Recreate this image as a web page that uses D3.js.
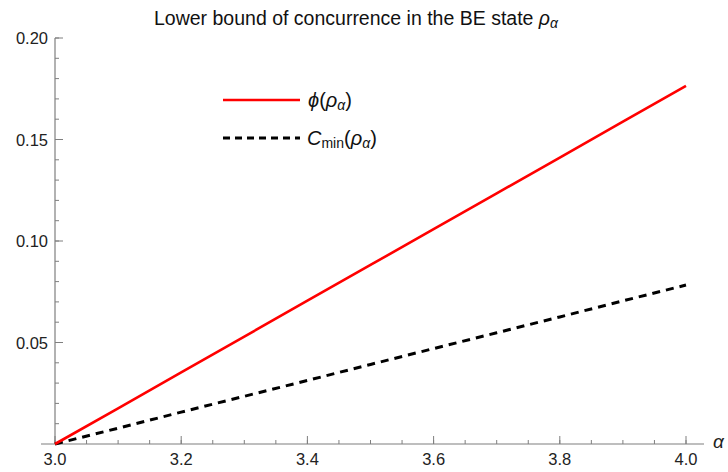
<!DOCTYPE html>
<html><head><meta charset="utf-8">
<script src="https://cdn.jsdelivr.net/npm/d3@7"></script>
<style>body{margin:0;background:#fff}svg{display:block;font-family:"Liberation Sans",Arial,sans-serif}</style>
</head><body>
<script>
const alphas = [3.0,3.1,3.2,3.3,3.4,3.5,3.6,3.7,3.8,3.9,4.0];
const phiVals = [0,0.0176,0.0353,0.0529,0.0706,0.0882,0.1058,0.1235,0.1411,0.1588,0.1764];
const cminVals = [0,0.0078,0.0157,0.0235,0.0313,0.0392,0.0470,0.0548,0.0626,0.0705,0.0783];
const xTicks = [3.0,3.2,3.4,3.6,3.8,4.0];
const yTicks = [0.05,0.10,0.15,0.20];

const W=728,H=472;
const svg=d3.select("body").append("svg").attr("width",W).attr("height",H);
const x=d3.scaleLinear().domain([3,4]).range([55,686]);
const y=d3.scaleLinear().domain([0,0.2]).range([444,38]);
const axisCol="#7f7f7f";
const FS=16.5;

// x axis
const gx=svg.append("g").attr("transform",`translate(0,${y(0)})`);
gx.append("line").attr("x1",41).attr("x2",704).attr("stroke",axisCol).attr("stroke-width",1.2);
gx.selectAll(".mn").data(d3.range(3,4.001,0.05)).join("line")
  .attr("x1",d=>x(d)).attr("x2",d=>x(d)).attr("y1",0).attr("y2",-4).attr("stroke",axisCol);
gx.selectAll(".mj").data(xTicks).join("line")
  .attr("x1",d=>x(d)).attr("x2",d=>x(d)).attr("y1",0).attr("y2",-8).attr("stroke",axisCol);
gx.selectAll("text").data(xTicks).join("text")
  .attr("x",d=>x(d)).attr("y",21).attr("text-anchor","middle").attr("font-size",FS).attr("fill","#222")
  .text(d=>d.toFixed(1));
svg.append("text").attr("x",713).attr("y",448).attr("font-size",19).attr("font-style","italic").attr("fill","#222").text("α");

// y axis
const gy=svg.append("g").attr("transform",`translate(${x(3)},0)`);
gy.append("line").attr("y1",y(0)).attr("y2",y(0.2)).attr("stroke",axisCol).attr("stroke-width",1.2);
gy.selectAll(".mn").data(d3.range(0,0.2001,0.01)).join("line")
  .attr("y1",d=>y(d)).attr("y2",d=>y(d)).attr("x1",0).attr("x2",4).attr("stroke",axisCol);
gy.selectAll(".mj").data(yTicks).join("line")
  .attr("y1",d=>y(d)).attr("y2",d=>y(d)).attr("x1",0).attr("x2",8).attr("stroke",axisCol);
gy.selectAll("text").data(yTicks).join("text")
  .attr("x",-7).attr("y",d=>y(d)+6).attr("text-anchor","end").attr("font-size",FS).attr("fill","#222")
  .text(d=>d.toFixed(2));

// lines
const line=vals=>d3.line().x((d,i)=>x(alphas[i])).y(d=>y(d))(vals);
svg.append("path").attr("d",line(cminVals)).attr("fill","none").attr("stroke","#000").attr("stroke-width",3).attr("stroke-dasharray","8,6");
svg.append("path").attr("d",line(phiVals)).attr("fill","none").attr("stroke","#f00").attr("stroke-width",2.6);

// title
const t=svg.append("text").attr("x",356).attr("y",25).attr("text-anchor","middle").attr("font-size",19.5).attr("fill","#111");
t.append("tspan").text("Lower bound of concurrence in the BE state ");
t.append("tspan").attr("font-style","italic").text("ρ");
t.append("tspan").attr("font-style","italic").attr("font-size",14).attr("dy",3).text("α");

// legend
svg.append("line").attr("x1",223).attr("x2",300).attr("y1",100).attr("y2",100).attr("stroke","#f00").attr("stroke-width",2.6);
svg.append("line").attr("x1",223).attr("x2",300).attr("y1",138).attr("y2",138).attr("stroke","#000").attr("stroke-width",3).attr("stroke-dasharray","7,5");
const l1=svg.append("text").attr("x",308).attr("y",107).attr("font-size",20).attr("fill","#111");
l1.append("tspan").attr("font-style","italic").text("ϕ");
l1.append("tspan").text("(");
l1.append("tspan").attr("font-style","italic").text("ρ");
l1.append("tspan").attr("font-style","italic").attr("font-size",14).attr("dy",3).text("α");
l1.append("tspan").attr("dy",-3).text(")");
const l2=svg.append("text").attr("x",307).attr("y",145).attr("font-size",20).attr("fill","#111");
l2.append("tspan").attr("font-style","italic").text("C");
l2.append("tspan").attr("font-size",14).attr("dy",3).text("min");
l2.append("tspan").attr("dy",-3).text("(");
l2.append("tspan").attr("font-style","italic").text("ρ");
l2.append("tspan").attr("font-style","italic").attr("font-size",14).attr("dy",3).text("α");
l2.append("tspan").attr("dy",-3).text(")");
</script>
</body></html>
